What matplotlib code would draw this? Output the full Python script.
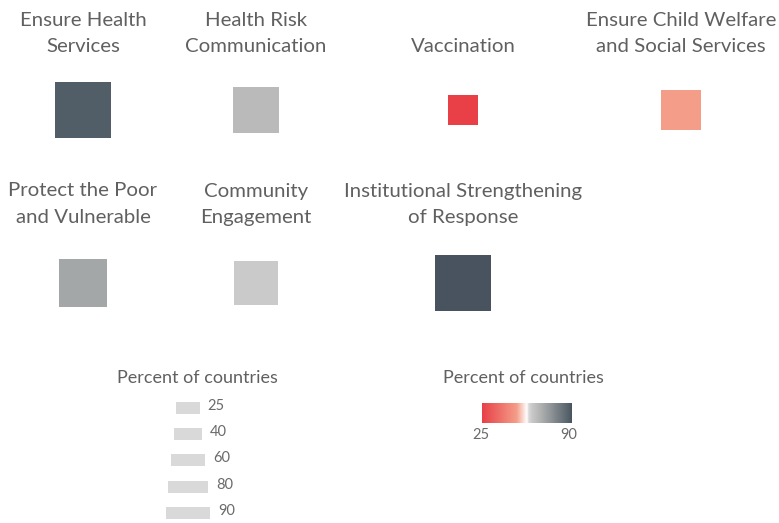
import matplotlib
matplotlib.use("Agg")
import matplotlib.pyplot as plt
import numpy as np
from matplotlib.colors import LinearSegmentedColormap
from matplotlib.patches import Rectangle

plt.rcParams["font.family"] = ["Lato", "DejaVu Sans"]

# measures and their share of countries (%)
measures = [
    "Ensure Health\nServices",
    "Health Risk\nCommunication",
    "Vaccination",
    "Ensure Child Welfare\nand Social Services",
    "Protect the Poor\nand Vulnerable",
    "Community\nEngagement",
    "Institutional Strengthening\nof Response",
]
percent = [88, 65, 25, 50, 70, 61, 90]

size_legend_values = [25, 40, 60, 80, 90]
color_range = [25, 90]

# red - white - grey diverging palette
cmap = LinearSegmentedColormap.from_list(
    "redgrey",
    [
        (0.0, "#e84046"),
        (0.385, "#f49d89"),
        (0.5, "#ffffff"),
        (0.52, "#d9d9db"),
        (0.555, "#c9c9c9"),
        (0.615, "#bababa"),
        (0.69, "#a5a8a9"),
        (0.97, "#535f68"),
        (1.0, "#495360"),
    ],
)

TEXT = "#606060"
W, H = 779, 523


def side(v):
    # square edge in px grows with percent
    return 19.6 + 0.415 * v


def frac(v):
    return (v - color_range[0]) / (color_range[1] - color_range[0])


fig = plt.figure(figsize=(W / 100, H / 100), dpi=100)
ax = fig.add_axes([0, 0, 1, 1])
ax.set_xlim(0, W)
ax.set_ylim(H, 0)
ax.axis("off")

col_x = [83, 256, 463, 681]
row_title_base = [52, 223]
row_square_y = [110, 283]

for i, (name, v) in enumerate(zip(measures, percent)):
    r, c = divmod(i, 4)
    cx, cy = col_x[c], row_square_y[r]
    lines = name.split("\n")
    for k, line in enumerate(reversed(lines)):
        ax.text(cx, row_title_base[r] - 26.5 * k, line, ha="center", va="baseline",
                fontsize=14.7, color=TEXT)
    s = side(v)
    ax.add_patch(Rectangle((cx - s / 2, cy - s / 2), s, s, color=cmap(frac(v)), lw=0))

# size legend
ax.text(197, 378, "Percent of countries", ha="center", va="center",
        fontsize=13, color=TEXT)
for k, v in enumerate(size_legend_values):
    w = 0.77 * side(v)
    y = 408 + 26.2 * k
    ax.add_patch(Rectangle((188 - w / 2, y - 6), w, 12, color="#d9d9d9", lw=0))
    ax.text(188 + w / 2 + 8, y - 2, str(v), ha="left", va="center",
            fontsize=10.5, color="#6a6a6a")

# colour legend
ax.text(523, 378, "Percent of countries", ha="center", va="center",
        fontsize=13, color=TEXT)
grad = np.linspace(0, 1, 256).reshape(1, -1)
ax.imshow(grad, cmap=cmap, aspect="auto", extent=(482, 572, 423, 403))
ax.set_xlim(0, W)
ax.set_ylim(H, 0)
ax.text(481, 435, str(color_range[0]), ha="center", va="center",
        fontsize=10.5, color="#6a6a6a")
ax.text(569, 435, str(color_range[1]), ha="center", va="center",
        fontsize=10.5, color="#6a6a6a")

fig.savefig("out.png", dpi=100)
